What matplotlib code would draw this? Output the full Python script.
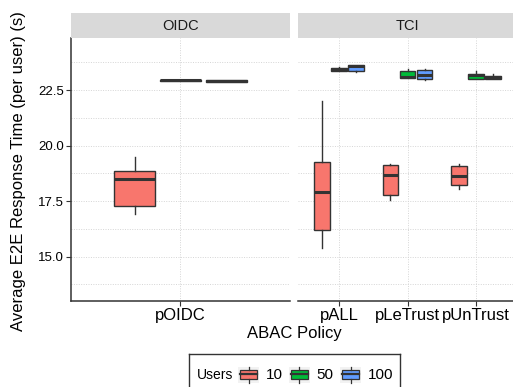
import numpy as np
import matplotlib
matplotlib.use('Agg')
import matplotlib.pyplot as plt
from matplotlib.patches import Rectangle

plt.rcParams['font.family'] = ['Liberation Sans', 'DejaVu Sans']

# Дані
oidc_policy = ['pOIDC']
tci_policy = ['pALL', 'pLeTrust', 'pUnTrust']
users = ['10', '50', '100']
user_colors = ['#F8766D', '#00BA38', '#619CFF']

# рядки: користувачі 10, 50, 100; стовпці: політики
oidc_whislo = [[16.94], [22.92], [22.87]]
oidc_q1 = [[17.30], [22.92], [22.87]]
oidc_med = [[18.48], [22.93], [22.90]]
oidc_q3 = [[18.86], [22.95], [22.95]]
oidc_whishi = [[19.50], [22.95], [22.95]]

tci_whislo = [[15.38, 17.54, 18.06], [23.34, 23.03, 22.99], [23.33, 22.94, 23.01]]
tci_q1 = [[16.22, 17.79, 18.21], [23.36, 23.03, 22.99], [23.36, 22.98, 23.01]]
tci_med = [[17.91, 18.66, 18.65], [23.44, 23.08, 23.19], [23.58, 23.16, 23.07]]
tci_q3 = [[19.26, 19.14, 19.08], [23.51, 23.37, 23.23], [23.62, 23.39, 23.14]]
tci_whishi = [[22.00, 19.19, 19.19], [23.53, 23.43, 23.37], [23.62, 23.43, 23.22]]

y_ticks = [15.0, 17.5, 20.0, 22.5]
y_minor = [13.75, 16.25, 18.75, 21.25, 23.75]
y_lim = (13.02, 24.84)

W, H = 513, 387
fig = plt.figure(figsize=(W / 100, H / 100), dpi=100)

def px_axes(x0, y0, x1, y1):
    # прямокутник у пікселях (від верхнього лівого кута)
    return fig.add_axes([x0 / W, 1 - y1 / H, (x1 - x0) / W, (y1 - y0) / H])

def draw_panel(ax, policies, whislo, q1, med, q3, whishi):
    n = len(policies)
    for i, col in enumerate(user_colors):
        stats = []
        for j in range(n):
            stats.append(dict(whislo=whislo[i][j], q1=q1[i][j], med=med[i][j],
                              q3=q3[i][j], whishi=whishi[i][j], fliers=[]))
        pos = [j + 1 + (i - 1) * 0.25 for j in range(n)]
        ax.bxp(stats, positions=pos, widths=0.225, patch_artist=True,
               showfliers=False, showcaps=False,
               boxprops=dict(facecolor=col, edgecolor='#333333', linewidth=1.0),
               medianprops=dict(color='#333333', linewidth=2.2, solid_capstyle='butt'),
               whiskerprops=dict(color='#333333', linewidth=1.0))
    ax.set_xlim(0.4, n + 0.6)
    ax.set_ylim(*y_lim)
    ax.set_xticks(range(1, n + 1))
    ax.set_xticklabels(policies, fontsize=12)
    ax.set_yticks(y_ticks)
    for yv in y_ticks + y_minor:
        ax.axhline(yv, color='#D5D5D5', lw=0.7, ls=(0, (1, 1.5)), zorder=0)
    for xv in range(1, n + 1):
        ax.axvline(xv, color='#D5D5D5', lw=0.7, ls=(0, (1, 1.5)), zorder=0)
    for s in ['top', 'right']:
        ax.spines[s].set_visible(False)
    ax.spines['bottom'].set_color('#333333')
    ax.spines['bottom'].set_linewidth(1.1)
    ax.tick_params(axis='x', length=3.5, width=0.8, color='#333333', pad=1.5, labelcolor='black')
    ax.set_facecolor('white')

ax1 = px_axes(71, 38, 290, 300.7)
ax2 = px_axes(298, 38, 517, 300.7)
draw_panel(ax1, oidc_policy, oidc_whislo, oidc_q1, oidc_med, oidc_q3, oidc_whishi)
draw_panel(ax2, tci_policy, tci_whislo, tci_q1, tci_med, tci_q3, tci_whishi)

ax1.set_yticklabels([f'{v:.1f}' for v in y_ticks], fontsize=9.5)
ax1.spines['left'].set_color('#333333')
ax1.spines['left'].set_linewidth(1.1)
ax1.tick_params(axis='y', length=3.5, width=0.8, color='#333333', pad=1.5, labelcolor='black')
ax2.spines['left'].set_visible(False)
ax2.tick_params(axis='y', left=False, labelleft=False)

# Заголовки панелей
for (x0, x1), name in [((71, 290), 'OIDC'), ((298, 517), 'TCI')]:
    sax = px_axes(x0, 13, x1, 38)
    sax.set_facecolor('#D9D9D9')
    sax.set_xticks([])
    sax.set_yticks([])
    for s in sax.spines.values():
        s.set_visible(False)
    sax.text(0.5, 0.5, name, ha='center', va='center', fontsize=10.5, color='#1A1A1A',
             transform=sax.transAxes)

fig.text(19 / W, 1 - 171.5 / H, 'Average E2E Response Time (per user) (s)',
         rotation=90, ha='center', va='center', fontsize=12)
fig.text(294.5 / W, 1 - 338 / H, 'ABAC Policy', ha='center', va='baseline', fontsize=12)

# Легенда
lax = px_axes(189, 354, 400, 396)
lax.set_xlim(189, 400)
lax.set_ylim(396, 354)
lax.set_xticks([])
lax.set_yticks([])
for s in lax.spines.values():
    s.set_color('#333333')
    s.set_linewidth(1.0)
lax.text(197, 375, 'Users', ha='left', va='center', fontsize=10)
key_x = [238, 288.7, 340]
lab_x = [266, 316, 368]
for kx, lx, col, lab in zip(key_x, lab_x, user_colors, users):
    lax.add_patch(Rectangle((kx, 366.7), 21, 16.5, facecolor='#F2F2F2', edgecolor='none'))
    cx = kx + 10.5
    lax.plot([cx, cx], [366.7, 369.5], color='#333333', lw=0.9)
    lax.plot([cx, cx], [379, 383.2], color='#333333', lw=0.9)
    lax.add_patch(Rectangle((kx + 2, 369.5), 17, 9.5, facecolor=col, edgecolor='#333333', lw=0.9))
    lax.plot([kx + 2, kx + 19], [374.2, 374.2], color='#333333', lw=1.6)
    lax.text(lx, 375, lab, ha='left', va='center', fontsize=11)

fig.savefig('out.png', dpi=100)
